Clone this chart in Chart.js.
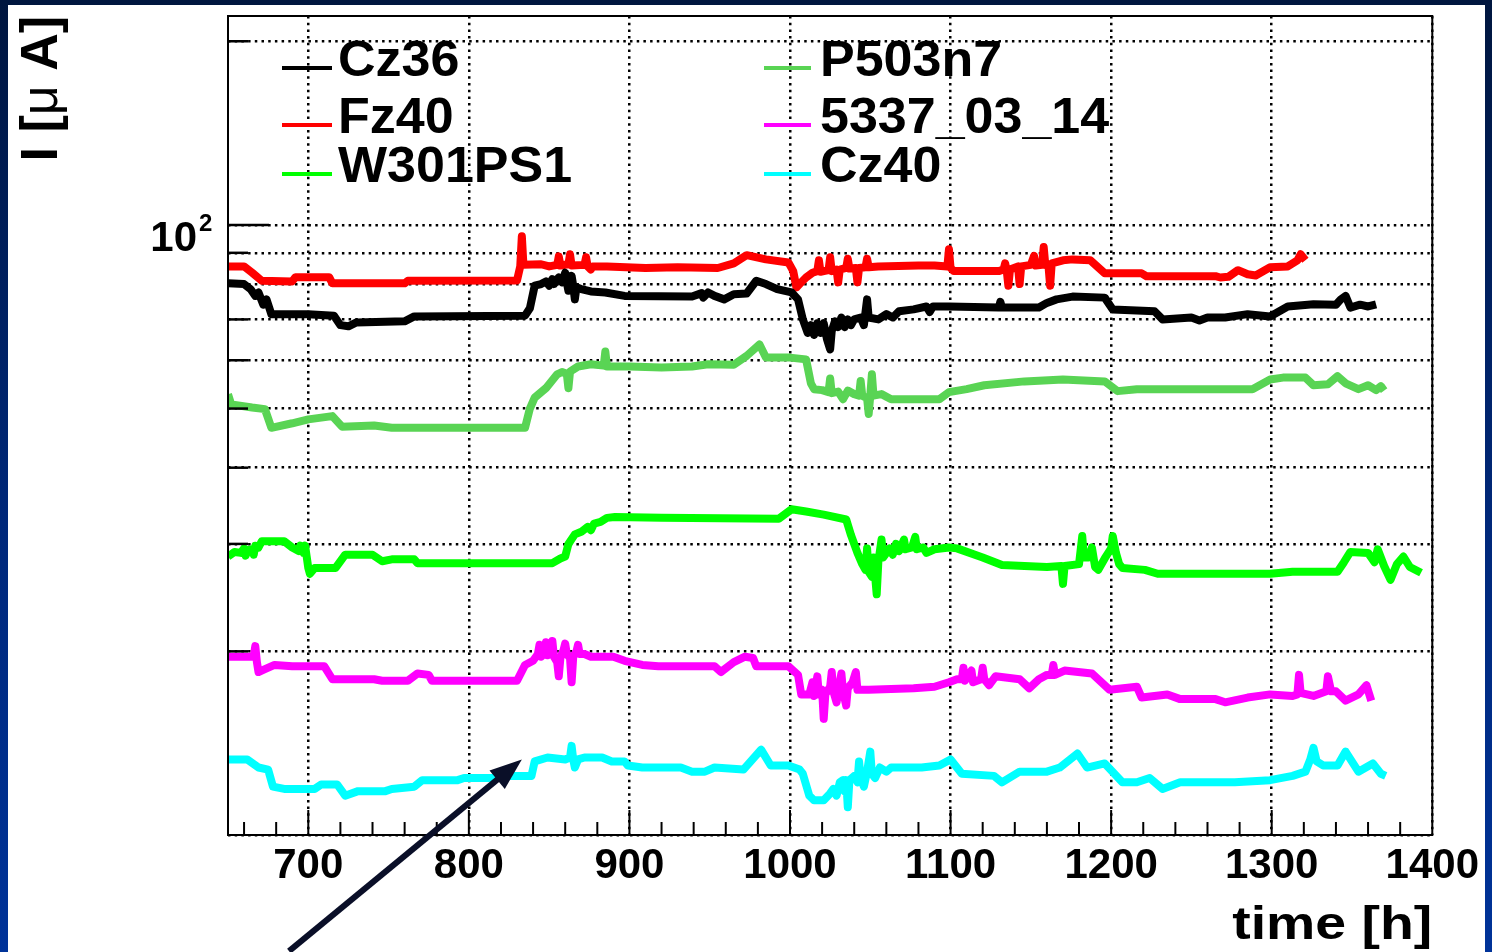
<!DOCTYPE html>
<html>
<head>
<meta charset="utf-8">
<title>Leakage current vs time</title>
<script src="https://cdn.jsdelivr.net/npm/chart.js@4.4.1/dist/chart.umd.min.js"></script>
<style>
  html, body { margin: 0; padding: 0; }
  body {
    width: 1492px; height: 952px; overflow: hidden; position: relative;
    background: linear-gradient(to bottom, #00163f 0%, #00287a 55%, #003399 100%);
  }
  #frame { position: absolute; left: 8px; top: 5px; width: 1477px; height: 947px; background: #fff; }
</style>
</head>
<body>
<div id="frame"><canvas id="chart"></canvas></div>
<script>
// current [uA] against time [h], one list of [time, current] pairs per sensor
const cz36 = [[650,80.2],[660,80.0],[664,78.5],[667,76.5],[669,77.5],[672,74.0],[674,75.5],[677,71.4],[700,71.4],[716,71.0],[720,68.5],[725,68.2],[730,69.2],[760,69.5],[766,70.8],[835,71.0],[838,73.0],[841,79.5],[845,80.0],[848,80.8],[850,79.5],[852,81.5],[853,80.0],[856,82.0],[858,80.5],[860,83.5],[861,80.5],[862,78.0],[863,80.5],[864,82.5],[865,79.5],[866,75.5],[867,79.0],[870,78.5],[876,77.8],[885,77.5],[897,76.5],[939,76.3],[945,77.3],[946,76.0],[949,77.5],[953,76.5],[959,75.5],[965,77.0],[973,77.2],[979,81.0],[985,80.0],[992,78.5],[1001,77.5],[1005,75.5],[1008,70.0],[1011,66.5],[1013,68.5],[1015,66.0],[1017,69.0],[1019,66.5],[1021,69.0],[1023,65.0],[1025,62.5],[1026,67.0],[1028,69.5],[1030,68.0],[1032,70.5],[1034,68.0],[1036,70.0],[1038,68.5],[1040,70.0],[1044,70.5],[1046,68.5],[1048,75.5],[1049,70.5],[1055,70.0],[1060,71.4],[1064,70.5],[1068,72.2],[1077,72.7],[1085,73.5],[1087,72.0],[1089,73.5],[1099,73.5],[1130,73.2],[1131,74.8],[1132,73.2],[1155,73.2],[1160,74.5],[1166,75.5],[1176,76.3],[1196,76.0],[1201,72.7],[1227,72.2],[1232,70.0],[1250,70.5],[1255,69.7],[1260,70.5],[1271,70.5],[1285,71.4],[1299,70.8],[1310,73.5],[1326,74.1],[1340,74.0],[1343,75.5],[1346,76.5],[1349,73.2],[1355,74.0],[1360,73.5],[1365,74.1]];
const fz40 = [[650,85.5],[660,85.5],[665,83.5],[671,81.0],[690,80.8],[692,82.1],[713,82.1],[715,80.2],[760,80.2],[762,81.0],[830,81.1],[832,85.5],[833,95.8],[834,86.0],[845,86.2],[850,85.5],[855,86.0],[856,88.8],[857,85.8],[862,86.2],[863,89.5],[864,85.8],[872,86.0],[873,88.5],[874,85.5],[876,84.5],[877,85.5],[886,85.5],[910,85.0],[930,85.2],[955,85.0],[965,86.5],[973,89.2],[985,87.8],[999,86.8],[1002,84.0],[1004,79.0],[1006,80.0],[1010,82.0],[1014,83.5],[1017,84.0],[1018,87.5],[1019,83.8],[1024,84.3],[1025,88.5],[1026,84.0],[1029,84.5],[1030,80.5],[1031,84.5],[1035,85.0],[1036,88.0],[1037,84.8],[1041,85.0],[1042,80.5],[1043,85.0],[1047,85.2],[1048,88.0],[1049,85.2],[1055,85.5],[1080,85.8],[1090,85.8],[1098,85.5],[1099,91.2],[1100,85.0],[1102,84.0],[1130,84.0],[1133,84.5],[1134,86.5],[1135,84.0],[1136,79.5],[1137,84.5],[1142,85.5],[1143,80.0],[1144,85.5],[1150,86.0],[1152,89.0],[1153,85.8],[1157,86.0],[1158,92.0],[1159,86.0],[1161,85.5],[1162,79.5],[1163,86.5],[1170,87.5],[1176,87.8],[1187,87.5],[1196,83.3],[1219,83.3],[1222,82.4],[1265,82.4],[1268,82.0],[1273,82.2],[1279,84.3],[1285,83.0],[1290,82.6],[1299,85.2],[1310,85.5],[1316,87.5],[1318,89.5],[1321,87.5]];
const w301ps1 = [[650,28.6],[654,29.1],[658,29.0],[660,29.5],[661,28.7],[662,29.3],[665,29.4],[666,28.8],[667,29.8],[669,29.6],[671,30.3],[685,30.3],[690,29.6],[694,29.2],[695,29.8],[697,29.0],[698,29.8],[699,28.6],[700,27.4],[701,26.8],[704,27.4],[717,27.4],[723,28.8],[740,28.8],[746,28.1],[752,28.3],[766,28.3],[768,27.9],[852,27.9],[857,28.4],[860,28.6],[862,30.0],[866,31.1],[870,31.4],[874,32.0],[876,31.6],[878,32.4],[882,32.6],[886,33.1],[891,33.2],[920,33.1],[993,33.0],[1001,34.2],[1010,33.9],[1021,33.5],[1035,32.9],[1038,31.0],[1042,29.0],[1045,27.8],[1047,27.2],[1048,29.5],[1049,27.0],[1051,26.5],[1052,28.5],[1054,24.8],[1055,28.0],[1057,30.5],[1058,28.5],[1062,29.5],[1064,28.8],[1066,30.0],[1068,29.2],[1071,30.5],[1072,29.4],[1076,29.6],[1078,30.8],[1079,29.4],[1083,29.6],[1085,29.0],[1090,29.4],[1099,29.6],[1104,29.5],[1120,28.5],[1132,27.7],[1160,27.5],[1169,27.6],[1170,25.8],[1171,27.6],[1180,27.8],[1182,30.9],[1183,28.5],[1186,28.5],[1188,29.6],[1190,27.5],[1192,27.2],[1196,28.4],[1200,29.5],[1201,30.9],[1203,29.0],[1205,27.8],[1207,27.4],[1221,27.2],[1229,26.8],[1299,26.8],[1313,27.0],[1341,27.0],[1345,28.0],[1349,29.1],[1360,29.0],[1364,28.0],[1366,29.4],[1370,27.6],[1374,26.2],[1378,27.8],[1382,28.6],[1386,27.5],[1393,26.9]];
const p503n7 = [[650,52.8],[652,50.8],[665,50.2],[673,49.9],[677,46.5],[690,47.3],[700,48.0],[715,48.6],[721,46.7],[741,46.9],[752,46.5],[835,46.5],[838,50.0],[841,52.1],[848,54.0],[855,56.9],[858,57.4],[861,57.0],[862,54.0],[863,57.5],[868,58.6],[876,59.1],[884,58.8],[885,62.0],[886,58.6],[900,58.6],[920,58.4],[939,58.6],[949,59.1],[965,59.0],[973,61.0],[981,63.7],[985,60.6],[1000,60.6],[1010,60.2],[1013,55.0],[1015,53.8],[1020,53.6],[1024,53.2],[1025,56.0],[1026,53.0],[1030,53.3],[1033,51.8],[1036,53.5],[1040,52.8],[1043,52.5],[1044,55.5],[1045,52.5],[1048,52.0],[1049,49.0],[1050,52.5],[1051,56.9],[1052,52.5],[1057,52.8],[1063,51.8],[1093,51.8],[1099,53.2],[1110,53.8],[1121,54.6],[1146,55.4],[1170,55.8],[1196,55.4],[1204,53.4],[1216,53.8],[1288,53.8],[1299,55.8],[1307,56.2],[1321,56.2],[1326,54.6],[1335,54.8],[1341,56.5],[1346,55.0],[1354,53.8],[1360,54.6],[1365,53.6],[1368,54.4],[1370,53.5]];
const s5337_03_14 = [[650,19.6],[665,19.6],[666,19.6],[667,20.4],[668,19.2],[669,18.5],[673,18.7],[679,19.0],[690,18.9],[710,18.9],[715,18.0],[741,18.0],[746,17.9],[762,17.9],[768,18.4],[775,18.3],[777,17.9],[830,17.9],[835,19.0],[840,19.3],[843,19.8],[844,20.5],[845,19.6],[847,19.9],[848,20.7],[849,19.7],[851,19.9],[852,20.8],[853,19.6],[855,19.2],[856,18.2],[857,19.5],[859,20.1],[860,20.6],[861,19.8],[863,19.5],[864,17.8],[865,19.6],[867,20.0],[868,20.5],[869,19.8],[872,19.8],[876,19.6],[890,19.6],[897,19.3],[908,19.0],[918,18.9],[953,18.9],[957,18.5],[965,19.2],[972,19.6],[977,19.5],[979,18.9],[999,18.9],[1005,18.3],[1007,17.0],[1012,17.0],[1014,17.8],[1015,16.9],[1017,18.2],[1018,17.0],[1020,17.3],[1021,15.5],[1022,17.0],[1025,17.5],[1026,18.5],[1027,17.2],[1029,16.5],[1030,17.2],[1032,18.4],[1033,17.2],[1035,16.3],[1036,17.4],[1039,17.8],[1041,18.5],[1042,17.3],[1045,17.3],[1049,17.3],[1077,17.4],[1090,17.5],[1099,17.8],[1104,18.0],[1107,18.0],[1108,18.8],[1109,17.9],[1113,18.6],[1114,17.8],[1119,18.0],[1120,18.8],[1121,18.0],[1124,17.6],[1128,18.2],[1143,18.0],[1149,17.4],[1155,18.0],[1160,18.3],[1163,18.3],[1164,19.0],[1165,18.3],[1171,18.6],[1188,18.4],[1199,17.3],[1216,17.5],[1219,16.8],[1235,17.0],[1243,16.7],[1265,16.7],[1271,16.5],[1285,16.8],[1299,17.0],[1313,16.9],[1316,17.0],[1317,18.3],[1318,17.1],[1326,16.9],[1334,17.2],[1335,18.2],[1337,17.2],[1340,17.2],[1346,16.6],[1354,17.0],[1359,17.6],[1362,16.6]];
const cz40 = [[650,13.3],[662,13.3],[669,12.9],[675,12.8],[678,12.0],[685,11.9],[704,11.9],[708,12.1],[718,12.1],[723,11.6],[731,11.8],[748,11.8],[752,11.9],[766,12.0],[771,12.3],[793,12.3],[797,12.4],[814,12.4],[827,12.5],[839,12.5],[841,13.2],[849,13.4],[860,13.3],[863,13.4],[864,14.0],[865,13.3],[866,12.9],[868,13.3],[872,13.4],[883,13.4],[889,13.2],[897,13.2],[899,13.0],[908,12.9],[932,12.9],[939,12.7],[947,12.7],[953,12.9],[971,12.8],[982,13.8],[988,13.0],[999,13.0],[1006,12.8],[1008,12.6],[1012,11.6],[1015,11.4],[1021,11.4],[1025,11.7],[1027,11.9],[1029,11.6],[1031,12.2],[1033,12.3],[1034,11.8],[1035,12.3],[1036,11.1],[1037,12.3],[1040,12.5],[1042,12.2],[1043,13.2],[1044,12.4],[1046,12.0],[1048,12.7],[1050,13.7],[1051,12.6],[1053,12.4],[1056,12.9],[1060,12.7],[1063,12.9],[1082,12.9],[1093,13.0],[1100,13.3],[1107,12.6],[1127,12.5],[1132,12.2],[1143,12.7],[1160,12.7],[1168,12.9],[1179,13.6],[1185,12.9],[1196,13.1],[1207,12.2],[1216,12.2],[1224,12.4],[1232,11.9],[1243,12.2],[1277,12.2],[1299,12.3],[1313,12.5],[1321,12.7],[1324,13.3],[1326,13.9],[1328,13.2],[1332,13.0],[1341,13.0],[1346,13.7],[1354,12.7],[1363,13.1],[1368,12.6],[1371,12.5]];

const seriesNames = ['Cz36', 'Fz40', 'W301PS1', 'P503n7', '5337_03_14', 'Cz40'];
const seriesData = [cz36, fz40, w301ps1, p503n7, s5337_03_14, cz40];
const seriesColors = ['#000000', '#ff0000', '#00ff00', '#59d454', '#ff00ff', '#00ffff'];

const xTicks = [700, 800, 900, 1000, 1100, 1200, 1300, 1400];
const yTicks = [10, 20, 30, 40, 50, 60, 70, 80, 90, 100, 200];

// annotation arrow, tail and head in (time, current) coordinates
const arrowTail = [688, 6.45];
const arrowHead = [833, 13.3];

const FONT = '"Liberation Sans", Arial, Helvetica, sans-serif';

function line(ctx, x1, y1, x2, y2) {
    ctx.beginPath();
    ctx.moveTo(x1, y1);
    ctx.lineTo(x2, y2);
    ctx.stroke();
}

const decor = {
    id: 'decor',
    afterDraw(chart) {
        const { ctx, chartArea: a, scales: { x, y } } = chart;
        ctx.save();
        ctx.setLineDash([]);
        ctx.strokeStyle = '#000';
        ctx.fillStyle = '#000';

        // frame
        ctx.lineWidth = 2;
        ctx.strokeRect(a.left, a.top, a.right - a.left, a.bottom - a.top);

        // inward tick marks on the time axis
        for (let v = 660; v < 1400; v += 20) {
            const px = x.getPixelForValue(v);
            line(ctx, px, a.bottom, px, a.bottom - (v % 100 === 0 ? 25 : 13));
        }
        // inward tick marks on the current axis
        ctx.lineWidth = 2.5;
        yTicks.forEach(v => {
            if (v <= 10) return;
            const py = y.getPixelForValue(v);
            line(ctx, a.left, py, a.left + (v === 100 ? 41 : 20), py);
        });

        // 10^2 label
        const p100 = y.getPixelForValue(100);
        ctx.textBaseline = 'alphabetic';
        ctx.textAlign = 'right';
        ctx.font = `bold 42px ${FONT}`;
        ctx.fillText('10', a.left - 31, p100 + 26);
        ctx.textAlign = 'left';
        ctx.font = `bold 24px ${FONT}`;
        ctx.fillText('2', a.left - 29, p100 + 6);

        // y title, reads bottom to top, ends at the top of the frame
        ctx.save();
        ctx.translate(35, a.top);
        ctx.rotate(-Math.PI / 2);
        ctx.textBaseline = 'middle';
        const parts = [['I [', 'bold'], ['\u03bc', 'normal'], [' A]', 'bold']];
        let total = 0;
        parts.forEach(([t, w]) => { ctx.font = `${w} 52px ${FONT}`; total += ctx.measureText(t).width; });
        let cx = -total;
        parts.forEach(([t, w]) => {
            ctx.font = `${w} 52px ${FONT}`;
            ctx.fillText(t, cx, 0);
            cx += ctx.measureText(t).width;
        });
        ctx.restore();

        // x title, right aligned with the frame
        ctx.save();
        ctx.font = `bold 46px ${FONT}`;
        const tw = ctx.measureText('time [h]').width;
        ctx.translate(a.right, 934);
        ctx.scale(200 / tw, 1);
        ctx.textAlign = 'right';
        ctx.fillText('time [h]', 0, 0);
        ctx.restore();

        // legend, two columns of three
        const rows = [52, 109, 158];
        const cols = [[54, 104, 110], [536, 583, 592]];
        ctx.font = `bold 50px ${FONT}`;
        ctx.textAlign = 'left';
        seriesNames.forEach((name, i) => {
            const [l0, l1, tx] = cols[i < 3 ? 0 : 1];
            const ly = a.top + rows[i % 3];
            ctx.strokeStyle = seriesColors[i];
            ctx.lineWidth = 4;
            line(ctx, a.left + l0, ly, a.left + l1, ly);
            ctx.fillStyle = '#000';
            ctx.save();
            ctx.translate(a.left + tx, ly + 8);
            ctx.scale(1.04, 1);
            ctx.fillText(name, 0, 0);
            ctx.restore();
        });

        // arrow
        const x1 = x.getPixelForValue(arrowTail[0]), y1 = y.getPixelForValue(arrowTail[1]);
        const x2 = x.getPixelForValue(arrowHead[0]), y2 = y.getPixelForValue(arrowHead[1]);
        const ang = Math.atan2(y2 - y1, x2 - x1);
        const cos = Math.cos(ang), sin = Math.sin(ang);
        ctx.strokeStyle = '#0a0f28';
        ctx.fillStyle = '#0a0f28';
        ctx.lineWidth = 6;
        line(ctx, x1, y1, x2 - 22 * cos, y2 - 22 * sin);
        ctx.beginPath();
        ctx.moveTo(x2, y2);
        ctx.lineTo(x2 - 32 * cos + 12 * sin, y2 - 32 * sin - 12 * cos);
        ctx.lineTo(x2 - 32 * cos - 12 * sin, y2 - 32 * sin + 12 * cos);
        ctx.closePath();
        ctx.fill();

        ctx.restore();
    }
};

const ctx = document.getElementById('chart').getContext('2d');
new Chart(ctx, {
    type: 'line',
    data: {
        datasets: seriesNames.map((name, i) => ({
            label: name,
            data: seriesData[i].map(([t, c]) => ({ x: t, y: c })),
            borderColor: seriesColors[i],
            borderWidth: 8,
            pointRadius: 0,
            tension: 0,
            fill: false,
            borderJoinStyle: 'round'
        }))
    },
    options: {
        responsive: true,
        maintainAspectRatio: false,
        animation: false,
        devicePixelRatio: 1,
        layout: { padding: { top: 11, right: 52, left: 0, bottom: 0 } },
        plugins: { legend: { display: false }, tooltip: { enabled: false } },
        scales: {
            x: {
                type: 'linear',
                min: 650,
                max: 1400,
                afterBuildTicks: s => { s.ticks = xTicks.map(v => ({ value: v })); },
                afterFit: s => { s.height = 117; },
                grid: { color: '#000', lineWidth: 2.5, drawTicks: false },
                border: { display: false, dash: [2.5, 4.2] },
                ticks: {
                    autoSkip: false,
                    maxRotation: 0,
                    padding: 6,
                    color: '#000',
                    font: { family: FONT, size: 42, weight: 'bold' },
                    callback: v => String(v)
                }
            },
            y: {
                type: 'logarithmic',
                min: 10,
                max: 220,
                afterBuildTicks: s => { s.ticks = yTicks.map(v => ({ value: v })); },
                afterFit: s => { s.width = 220; },
                grid: { color: '#000', lineWidth: 2.5, drawTicks: false },
                border: { display: false, dash: [2.5, 4.2] },
                ticks: { display: false }
            }
        }
    },
    plugins: [decor]
});
</script>
</body>
</html>
